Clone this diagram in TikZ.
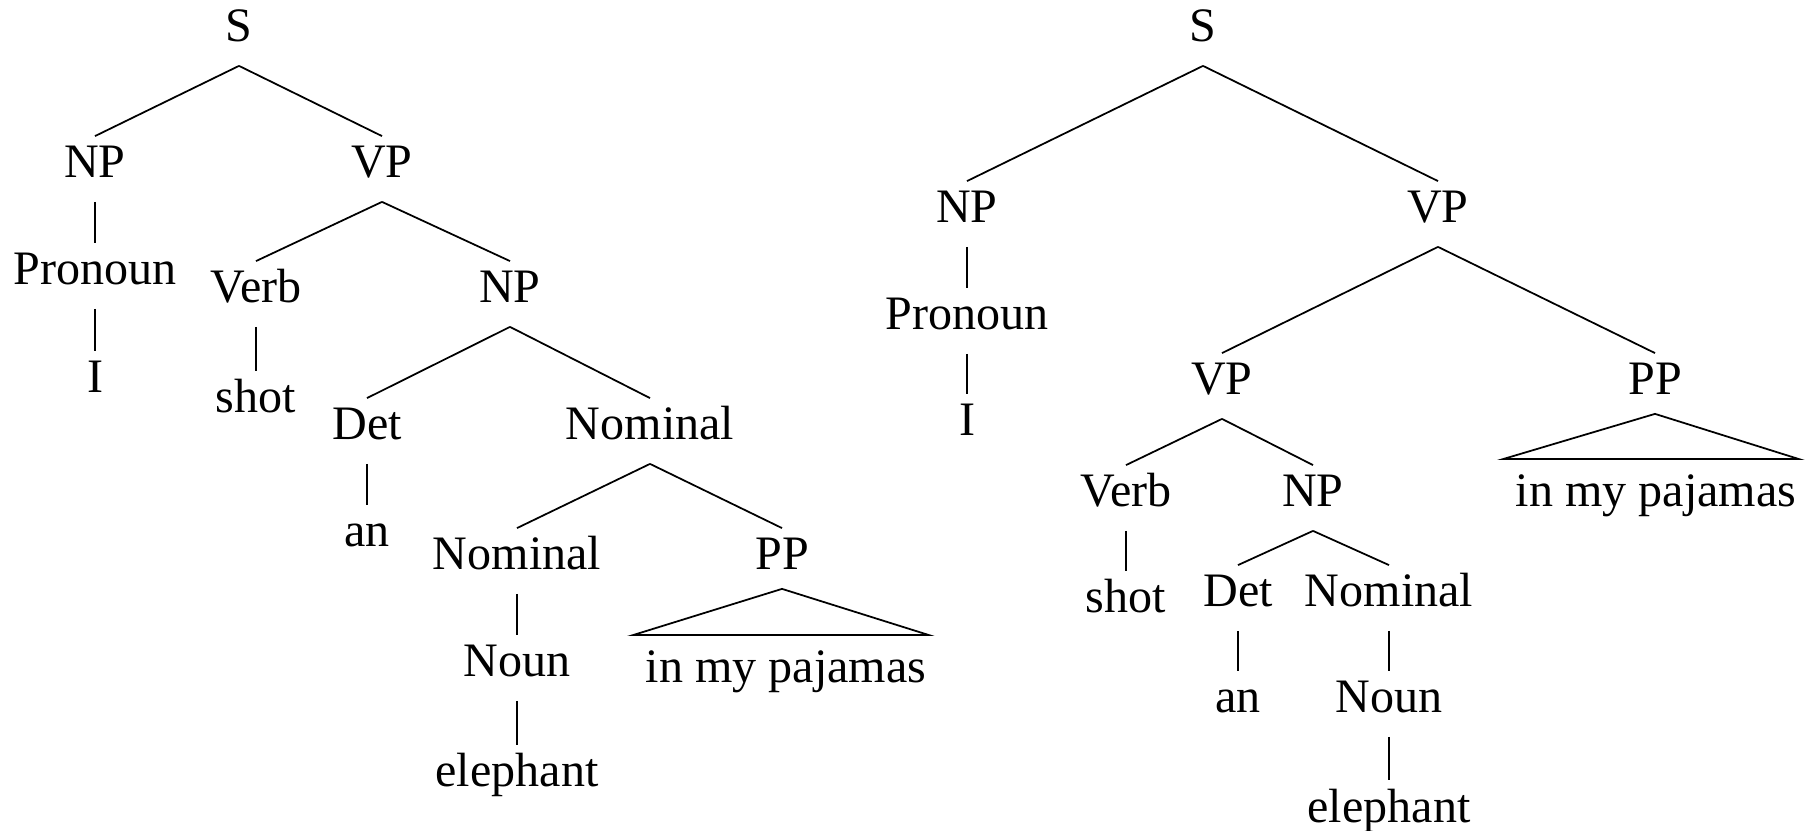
\documentclass[tikz,border=0pt]{standalone}
\usepackage{fontspec}
\setmainfont{Liberation Serif}

\begin{document}
\begin{tikzpicture}[x=0.01cm,y=-0.01cm,line width=0.5pt,
    cat/.style={anchor=base,inner sep=0pt,text height=0.41cm,text depth=0.23cm,
      font=\fontsize{13.66pt}{16pt}\selectfont},
    phrase/.style={cat,text height=0.47cm}]

  \useasboundingbox (0,0) rectangle (1812,831);

  % PP under the object Nominal
  \node[cat] (sL) at (239,42) {S};
  \node[cat] (npL) at (95,178) {NP};
  \node[cat] (vpL) at (382,178) {VP};
  \node[cat] (proL) at (95,285) {Pronoun};
  \node[cat] (iL) at (95,393) {I};
  \node[cat] (verbL) at (256,303) {Verb};
  \node[cat] (objL) at (510,303) {NP};
  \node[cat] (shotL) at (256,413) {shot};
  \node[cat] (detL) at (367,440) {Det};
  \node[cat] (nomL) at (650,440) {Nominal};
  \node[cat] (anL) at (367,547) {an};
  \node[cat] (nnL) at (517,570) {Nominal};
  \node[cat] (ppL) at (782,570) {PP};
  \node[cat] (nounL) at (517,677) {Noun};
  \node[cat] (eleL) at (517,787) {elephant};
  \node[phrase] (pajL) at (786,683) {in my pajamas};

  % PP under the VP
  \node[cat] (sR) at (1203,42) {S};
  \node[cat] (npR) at (967,223) {NP};
  \node[cat] (vpR) at (1438,223) {VP};
  \node[cat] (proR) at (967,330) {Pronoun};
  \node[cat] (iR) at (967,436) {I};
  \node[cat] (vvR) at (1222,395) {VP};
  \node[cat] (ppR) at (1655,395) {PP};
  \node[phrase] (pajR) at (1656,507) {in my pajamas};
  \node[cat] (verbR) at (1126,507) {Verb};
  \node[cat] (objR) at (1313,507) {NP};
  \node[cat] (shotR) at (1126,613) {shot};
  \node[cat] (detR) at (1238,607) {Det};
  \node[cat] (nomR) at (1389,607) {Nominal};
  \node[cat] (anR) at (1238,713) {an};
  \node[cat] (nounR) at (1389,713) {Noun};
  \node[cat] (eleR) at (1389,822) {elephant};

  \foreach \a/\b in {sL/npL,sL/vpL,npL/proL,proL/iL,vpL/verbL,vpL/objL,
      verbL/shotL,objL/detL,objL/nomL,detL/anL,nomL/nnL,nomL/ppL,
      nnL/nounL,nounL/eleL}{
    \draw (\a.south) -- (\b.north);
  }

  \foreach \a/\b in {sR/npR,sR/vpR,npR/proR,proR/iR,vpR/vvR,vpR/ppR,
      vvR/verbR,vvR/objR,verbR/shotR,objR/detR,objR/nomR,detR/anR,
      nomR/nounR,nounR/eleR}{
    \draw (\a.south) -- (\b.north);
  }

  % collapsed PPs
  \foreach \p/\t in {ppL/pajL,ppR/pajR}{
    \draw ([yshift=0.05cm]\p.south) -- ([xshift=-0.12cm]\t.north west)
      -- ([xshift=0.02cm]\t.north east) -- cycle;
  }
\end{tikzpicture}
\end{document}
